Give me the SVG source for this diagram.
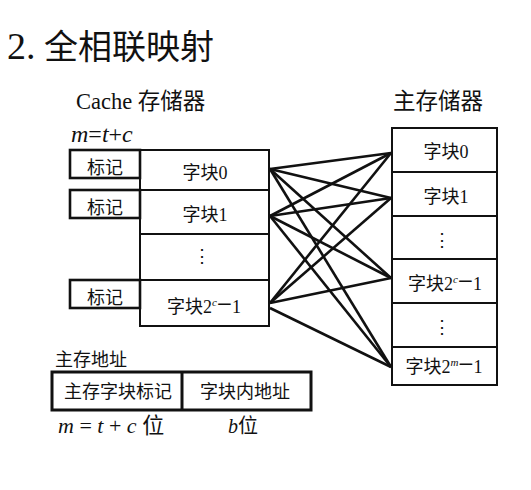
<svg xmlns="http://www.w3.org/2000/svg" width="531" height="490" viewBox="0 0 531 490">
<style>
text{font-family:"Liberation Serif","Noto Sans CJK SC",serif;fill:#111}
.t{font-size:18px}
.c{text-anchor:middle}
.i{font-style:italic}
.m{font-size:27px}
.box{fill:#fff;stroke:#111;stroke-width:2}
.tag{fill:#fff;stroke:#111;stroke-width:2.6}
.div{stroke:#111;stroke-width:2}
.ln{stroke:#111;stroke-width:2.6;fill:none}
</style>
<rect width="531" height="490" fill="#fff"/>
<text x="7" y="59" font-size="34"><tspan font-size="38">2.</tspan> 全相联映射</text>

<g id="cache">
<text x="76" y="109" font-size="22.5">Cache 存储器</text>
<text x="71" y="142" font-size="24"><tspan class="i">m</tspan>=<tspan class="i">t</tspan>+<tspan class="i">c</tspan></text>
<rect class="box" x="140" y="150" width="129" height="176"/>
<line class="div" x1="140" y1="190" x2="269" y2="190"/>
<line class="div" x1="140" y1="234" x2="269" y2="234"/>
<line class="div" x1="140" y1="280" x2="269" y2="280"/>
<text class="t c" x="205" y="179">字块0</text>
<text class="t c" x="205" y="221">字块1</text>
<text class="t c" x="202" y="262">⋮</text>
<text class="t c" x="204" y="313">字块2<tspan class="i" font-size="11" dy="-7">c</tspan><tspan class="m" dy="7">−</tspan>1</text>
</g>

<g id="tag0"><rect class="tag" x="70" y="150" width="70" height="28"/><text class="t c" x="105" y="174">标记</text></g>
<g id="tag1"><rect class="tag" x="70" y="190" width="70" height="28"/><text class="t c" x="105" y="214">标记</text></g>
<g id="tag2"><rect class="tag" x="70" y="280" width="70" height="28"/><text class="t c" x="105" y="304">标记</text></g>

<g id="main">
<text x="393" y="109" font-size="22.5">主存储器</text>
<rect class="box" x="392" y="128" width="105" height="257"/>
<line class="div" x1="392" y1="172" x2="497" y2="172"/>
<line class="div" x1="392" y1="216" x2="497" y2="216"/>
<line class="div" x1="392" y1="259" x2="497" y2="259"/>
<line class="div" x1="392" y1="303" x2="497" y2="303"/>
<line class="div" x1="392" y1="347" x2="497" y2="347"/>
<text class="t c" x="446" y="158">字块0</text>
<text class="t c" x="446" y="203">字块1</text>
<text class="t c" x="442" y="246">⋮</text>
<text class="t c" x="445" y="290">字块2<tspan class="i" font-size="11" dy="-7">c</tspan><tspan class="m" dy="7">−</tspan>1</text>
<text class="t c" x="442" y="333">⋮</text>
<text class="t c" x="444" y="373">字块2<tspan class="i" font-size="11" dy="-7">m</tspan><tspan class="m" dy="7">−</tspan>1</text>
</g>

<g id="connectors">
<line class="ln" x1="270" y1="169" x2="391" y2="153"/>
<line class="ln" x1="270" y1="169" x2="391" y2="198"/>
<line class="ln" x1="270" y1="169" x2="391" y2="278"/>
<line class="ln" x1="270" y1="169" x2="391" y2="367"/>
<line class="ln" x1="270" y1="216" x2="391" y2="153"/>
<line class="ln" x1="270" y1="216" x2="391" y2="198"/>
<line class="ln" x1="270" y1="216" x2="391" y2="278"/>
<line class="ln" x1="270" y1="216" x2="391" y2="367"/>
<line class="ln" x1="270" y1="303" x2="391" y2="153"/>
<line class="ln" x1="270" y1="303" x2="391" y2="198"/>
<line class="ln" x1="270" y1="303" x2="391" y2="278"/>
<line class="ln" x1="270" y1="308" x2="391" y2="367"/>
</g>

<g id="address">
<text x="55" y="366" font-size="18">主存地址</text>
<rect x="52" y="372" width="259" height="38" fill="#fff" stroke="#111" stroke-width="3"/>
<line x1="182" y1="372" x2="182" y2="410" stroke="#111" stroke-width="3"/>
<text class="t c" x="118" y="398">主存字块标记</text>
<text class="t c" x="245" y="398">字块内地址</text>
<text x="58" y="433" font-size="22"><tspan class="i">m</tspan> = <tspan class="i">t</tspan> + <tspan class="i">c</tspan> 位</text>
<text x="228" y="433" font-size="20"><tspan class="i">b</tspan>位</text>
</g>
</svg>
